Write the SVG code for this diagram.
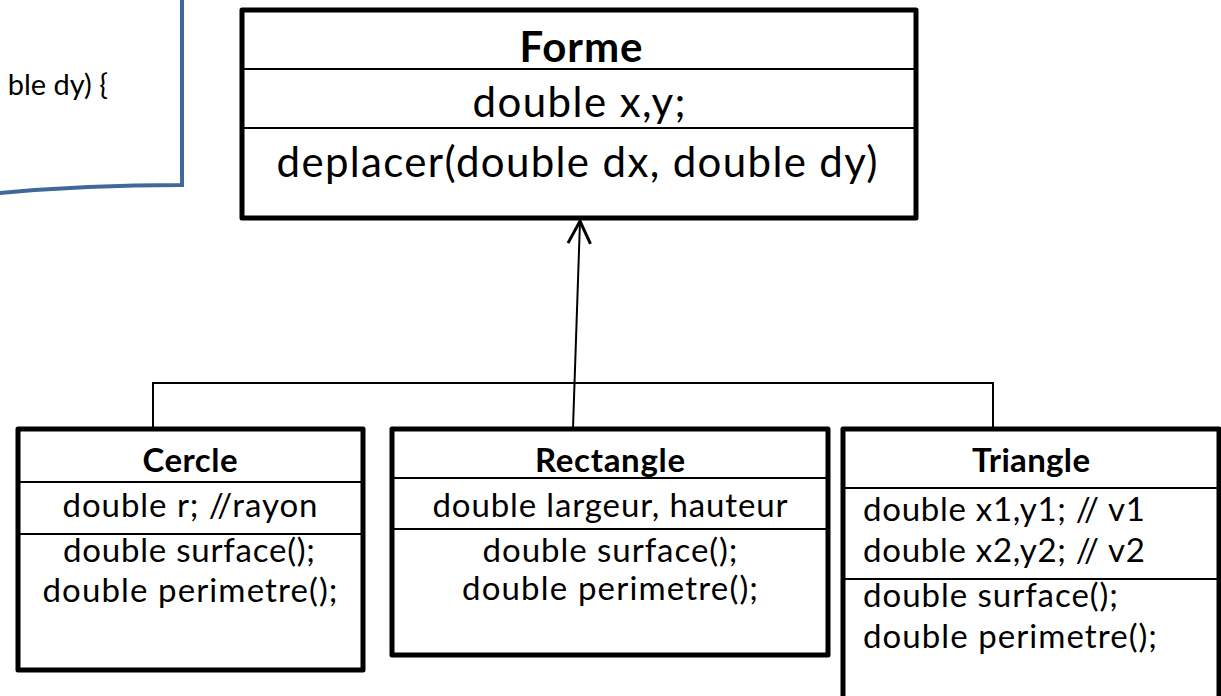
<svg xmlns="http://www.w3.org/2000/svg" width="1221" height="696" viewBox="0 0 1221 696">
  <style>
    text { font-family: Lato, "Open Sans", "DejaVu Sans", sans-serif; fill: #000; }
    .big { font-size: 42px; }
    .small { font-size: 33px; }
    .title { font-weight: bold; }
    .mid { text-anchor: middle; }
    .box { fill: #fff; stroke: #000; stroke-width: 5; stroke-linejoin: round; }
    .sep { stroke: #000; stroke-width: 2; }
    .wire { fill: none; stroke: #000; stroke-width: 2; }
    .note { fill: #fff; stroke: #41689a; stroke-width: 4; }
  </style>
  <defs>
    <marker id="open-arrow" markerUnits="userSpaceOnUse" markerWidth="30" markerHeight="30" viewBox="-20 -12 24 24" refX="0" refY="0" orient="auto">
      <path d="M -18 -9 L 0 0 L -18 9" fill="none" stroke="#000" stroke-width="2.4"/>
    </marker>
  </defs>
  <rect width="1221" height="696" fill="#fff"/>

  <!-- code note, partly off the left edge -->
  <g id="note">
    <path class="note" d="M 182 -10 L 182 185 C 130 185 60 187 -10 194 L -10 -10 Z"/>
    <text x="108" y="95" style="font-size:29px" text-anchor="end">ble dy) {</text>
  </g>

  <!-- base class -->
  <g id="forme">
    <rect class="box" x="242" y="10" width="674" height="208"/>
    <line class="sep" x1="242" y1="69" x2="916" y2="69"/>
    <line class="sep" x1="242" y1="128" x2="916" y2="128"/>
    <text class="big title mid" x="581" y="62" textLength="123">Forme</text>
    <text class="big mid" x="579" y="117" textLength="213">double x,y;</text>
    <text class="big mid" x="577" y="177" textLength="601">deplacer(double dx, double dy)</text>
  </g>

  <!-- subclasses -->
  <g id="cercle">
    <rect class="box" x="18" y="429" width="345" height="241"/>
    <line class="sep" x1="18" y1="482" x2="363" y2="482"/>
    <line class="sep" x1="18" y1="534" x2="363" y2="534"/>
    <text class="small title mid" x="190" y="472" textLength="95">Cercle</text>
    <text class="small mid" x="190" y="517" textLength="255">double r; //rayon</text>
    <text class="small mid" x="189" y="562" textLength="252">double surface();</text>
    <text class="small mid" x="190" y="602" textLength="295">double perimetre();</text>
  </g>

  <g id="rectangle">
    <rect class="box" x="392" y="429" width="436" height="226"/>
    <line class="sep" x1="392" y1="478" x2="828" y2="478"/>
    <line class="sep" x1="392" y1="529" x2="828" y2="529"/>
    <text class="small title mid" x="610" y="472" textLength="150">Rectangle</text>
    <text class="small mid" x="610" y="517" textLength="355">double largeur, hauteur</text>
    <text class="small mid" x="610" y="562" textLength="255">double surface();</text>
    <text class="small mid" x="610" y="600" textLength="296">double perimetre();</text>
  </g>

  <g id="triangle">
    <rect class="box" x="843" y="429" width="376" height="300"/>
    <line class="sep" x1="843" y1="488" x2="1219" y2="488"/>
    <line class="sep" x1="843" y1="579" x2="1219" y2="579"/>
    <text class="small title mid" x="1031" y="472" textLength="118">Triangle</text>
    <text class="small" x="863" y="521" textLength="282">double x1,y1; // v1</text>
    <text class="small" x="863" y="562" textLength="282">double x2,y2; // v2</text>
    <text class="small" x="863" y="607" textLength="255">double surface();</text>
    <text class="small" x="863" y="648" textLength="294">double perimetre();</text>
  </g>

  <!-- generalisation links -->
  <g id="connectors">
    <polyline class="wire" points="153,429 153,383 993,383 993,429"/>
    <line class="wire" x1="573" y1="428" x2="580" y2="221" marker-end="url(#open-arrow)"/>
  </g>
</svg>
